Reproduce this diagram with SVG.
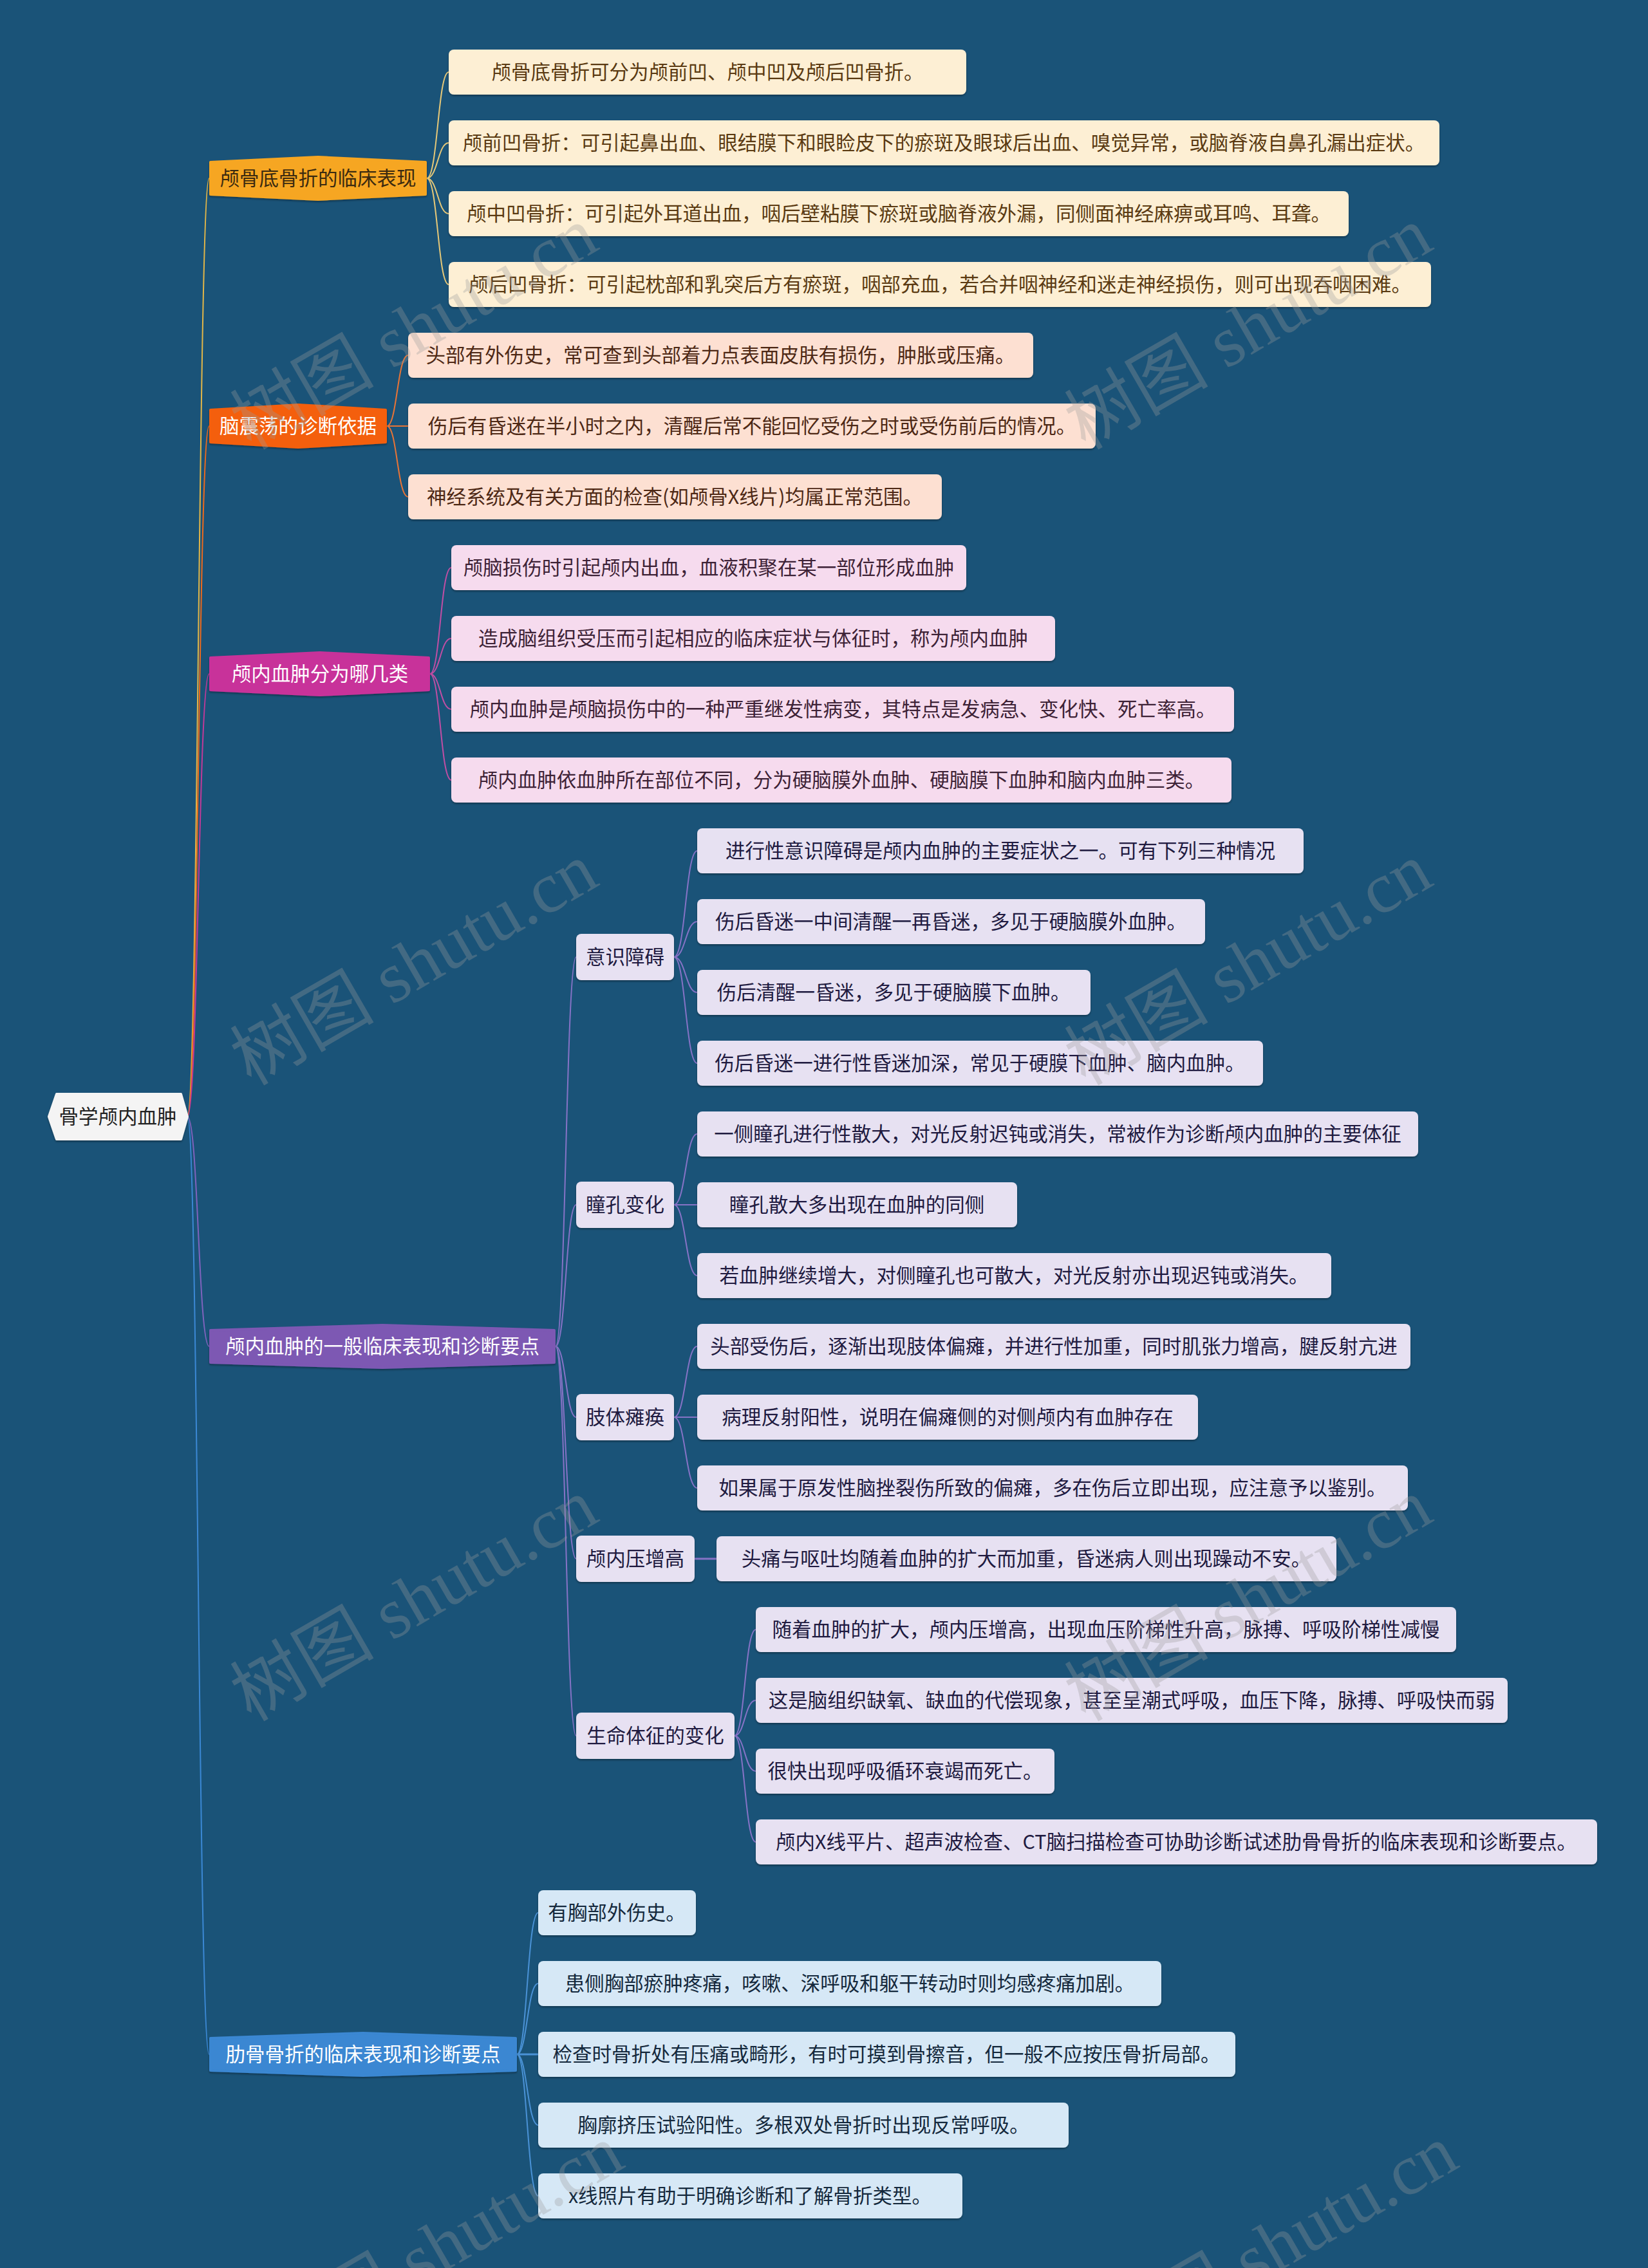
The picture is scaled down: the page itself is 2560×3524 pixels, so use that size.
<svg xmlns="http://www.w3.org/2000/svg" width="2560" height="3524" viewBox="0 0 2560 3524">
<defs>
<filter id="sh" x="-5%" y="-20%" width="110%" height="150%"><feDropShadow dx="0" dy="2" stdDeviation="1.5" flood-color="#000" flood-opacity="0.35"/></filter>
</defs>
<style>
text{font-family:"Noto Sans CJK SC","Liberation Sans",sans-serif;font-size:30.5px;text-anchor:middle}
.l1 rect{fill:#fdefd4}.l1 text{fill:#5a3a12}
.l2 rect{fill:#fde0d2}.l2 text{fill:#4d2815}
.l3 rect{fill:#f6dbee}.l3 text{fill:#3d2236}
.l4 rect{fill:#e7e1f2}.l4 text{fill:#201a40}
.l5 rect{fill:#d6e8f6}.l5 text{fill:#14283c}
rect{filter:url(#sh)}
.hx{filter:url(#sh);stroke-linejoin:round;stroke-width:4}
.wt{fill:#fff}
#edges path{fill:none;stroke-width:2}
.wm{font-family:"Liberation Serif","Noto Sans CJK SC",serif;font-size:112px;text-anchor:start;fill:#9a9a9a;fill-opacity:0.32}
</style>
<rect x="0" y="0" width="2560" height="3524" fill="#1a5378" style="filter:none"/>
<g id="edges">
<g stroke="#e2b648"><path d="M291 1735 C308 1735 308 277 325 277"/></g>
<g stroke="#ee6a1c"><path d="M291 1735 C308 1735 308 662 325 662"/></g>
<g stroke="#c03a98"><path d="M291 1735 C308 1735 308 1047 325 1047"/></g>
<g stroke="#7f63bd"><path d="M291 1735 C308 1735 308 2092 325 2092"/></g>
<g stroke="#3b88d4"><path d="M291 1735 C308 1735 308 3192 325 3192"/></g>
<g stroke="#e6c878">
<path d="M663 277 C680 277 680 112 697 112"/><path d="M663 277 C680 277 680 222 697 222"/><path d="M663 277 C680 277 680 332 697 332"/><path d="M663 277 C680 277 680 442 697 442"/>
</g>
<g stroke="#e87436">
<path d="M601 662 C617 662 617 552 634 552"/><path d="M601 662 L634 662"/><path d="M601 662 C617 662 617 772 634 772"/>
</g>
<g stroke="#c04ea4">
<path d="M668 1047 C684 1047 684 882 701 882"/><path d="M668 1047 C684 1047 684 992 701 992"/><path d="M668 1047 C684 1047 684 1102 701 1102"/><path d="M668 1047 C684 1047 684 1212 701 1212"/>
</g>
<g stroke="#8673c6">
<path d="M863 2092 C879 2092 879 1487 895 1487"/><path d="M863 2092 C879 2092 879 1872 895 1872"/><path d="M863 2092 C879 2092 879 2202 895 2202"/><path d="M863 2092 C879 2092 879 2422 895 2422"/><path d="M863 2092 C879 2092 879 2697 895 2697"/>
<path d="M1047 1487 C1065 1487 1065 1322 1083 1322"/><path d="M1047 1487 C1065 1487 1065 1432 1083 1432"/><path d="M1047 1487 C1065 1487 1065 1542 1083 1542"/><path d="M1047 1487 C1065 1487 1065 1652 1083 1652"/>
<path d="M1047 1872 C1065 1872 1065 1762 1083 1762"/><path d="M1047 1872 L1083 1872"/><path d="M1047 1872 C1065 1872 1065 1982 1083 1982"/>
<path d="M1047 2202 C1065 2202 1065 2092 1083 2092"/><path d="M1047 2202 L1083 2202"/><path d="M1047 2202 C1065 2202 1065 2312 1083 2312"/>
<path d="M1079 2422 L1113 2422" style="stroke-width:3"/>
<path d="M1141 2697 C1157 2697 1157 2532 1174 2532"/><path d="M1141 2697 C1157 2697 1157 2642 1174 2642"/><path d="M1141 2697 C1157 2697 1157 2752 1174 2752"/><path d="M1141 2697 C1157 2697 1157 2862 1174 2862"/>
</g>
<g stroke="#4a92d6">
<path d="M803 3192 C819 3192 819 2972 836 2972"/><path d="M803 3192 C819 3192 819 3082 836 3082"/><path d="M803 3192 L836 3192" style="stroke-width:3"/><path d="M803 3192 C819 3192 819 3302 836 3302"/><path d="M803 3192 C819 3192 819 3412 836 3412"/>
</g>
</g>

<g id="root"><polygon class="hx" points="88,1700 281,1700 291,1735 281,1770 88,1770 76,1735" fill="#f4f4f4" stroke="#f4f4f4"/><text x="183" y="1746" fill="#222">骨学颅内血肿</text></g>

<g id="n1"><polygon class="hx" points="327,252 494,244 661,252 661,302 494,310 327,302" fill="#f6a623" stroke="#f6a623"/><text x="494" y="288" fill="#3b2a10">颅骨底骨折的临床表现</text></g>
<g id="n2"><polygon class="hx" points="327,637 463,629 599,637 599,687 463,695 327,687" fill="#f45f0a" stroke="#f45f0a"/><text class="wt" x="463" y="673">脑震荡的诊断依据</text></g>
<g id="n3"><polygon class="hx" points="327,1022 497,1014 666,1022 666,1072 497,1080 327,1072" fill="#c8339a" stroke="#c8339a"/><text class="wt" x="497" y="1058">颅内血肿分为哪几类</text></g>
<g id="n4"><polygon class="hx" points="327,2067 594,2059 861,2067 861,2117 594,2125 327,2117" fill="#7d58b3" stroke="#7d58b3"/><text class="wt" x="594" y="2103">颅内血肿的一般临床表现和诊断要点</text></g>
<g id="n5"><polygon class="hx" points="327,3167 564,3159 801,3167 801,3217 564,3225 327,3217" fill="#3a87d2" stroke="#3a87d2"/><text class="wt" x="564" y="3203">肋骨骨折的临床表现和诊断要点</text></g>

<g class="l1">
<g id="i0"><rect x="697" y="77" width="804" height="70" rx="8"/><text x="1099" y="123">颅骨底骨折可分为颅前凹、颅中凹及颅后凹骨折。</text></g>
<g id="i1"><rect x="697" y="187" width="1539" height="70" rx="8"/><text x="1466" y="233">颅前凹骨折：可引起鼻出血、眼结膜下和眼睑皮下的瘀斑及眼球后出血、嗅觉异常，或脑脊液自鼻孔漏出症状。</text></g>
<g id="i2"><rect x="697" y="297" width="1398" height="70" rx="8"/><text x="1396" y="343">颅中凹骨折：可引起外耳道出血，咽后壁粘膜下瘀斑或脑脊液外漏，同侧面神经麻痹或耳鸣、耳聋。</text></g>
<g id="i3"><rect x="697" y="407" width="1526" height="70" rx="8"/><text x="1460" y="453">颅后凹骨折：可引起枕部和乳突后方有瘀斑，咽部充血，若合并咽神经和迷走神经损伤，则可出现吞咽困难。</text></g>
</g>
<g class="l2">
<g id="i4"><rect x="634" y="517" width="971" height="70" rx="8"/><text x="1119" y="563">头部有外伤史，常可查到头部着力点表面皮肤有损伤，肿胀或压痛。</text></g>
<g id="i5"><rect x="634" y="627" width="1068" height="70" rx="8"/><text x="1168" y="673">伤后有昏迷在半小时之内，清醒后常不能回忆受伤之时或受伤前后的情况。</text></g>
<g id="i6"><rect x="634" y="737" width="829" height="70" rx="8"/><text x="1048" y="783">神经系统及有关方面的检查(如颅骨X线片)均属正常范围。</text></g>
</g>
<g class="l3">
<g id="i7"><rect x="701" y="847" width="800" height="70" rx="8"/><text x="1101" y="893">颅脑损伤时引起颅内出血，血液积聚在某一部位形成血肿</text></g>
<g id="i8"><rect x="701" y="957" width="938" height="70" rx="8"/><text x="1170" y="1003">造成脑组织受压而引起相应的临床症状与体征时，称为颅内血肿</text></g>
<g id="i9"><rect x="701" y="1067" width="1216" height="70" rx="8"/><text x="1309" y="1113">颅内血肿是颅脑损伤中的一种严重继发性病变，其特点是发病急、变化快、死亡率高。</text></g>
<g id="i10"><rect x="701" y="1177" width="1212" height="70" rx="8"/><text x="1307" y="1223">颅内血肿依血肿所在部位不同，分为硬脑膜外血肿、硬脑膜下血肿和脑内血肿三类。</text></g>
</g>
<g class="l4">
<g id="m1"><rect x="895" y="1451" width="152" height="72" rx="8"/><text x="971" y="1498">意识障碍</text></g>
<g id="m2"><rect x="895" y="1836" width="152" height="72" rx="8"/><text x="971" y="1883">瞳孔变化</text></g>
<g id="m3"><rect x="895" y="2166" width="152" height="72" rx="8"/><text x="971" y="2213">肢体瘫痪</text></g>
<g id="m4"><rect x="895" y="2386" width="184" height="72" rx="8"/><text x="987" y="2433">颅内压增高</text></g>
<g id="m5"><rect x="895" y="2661" width="246" height="72" rx="8"/><text x="1018" y="2708">生命体征的变化</text></g>
<g id="i11"><rect x="1083" y="1287" width="942" height="70" rx="8"/><text x="1554" y="1333">进行性意识障碍是颅内血肿的主要症状之一。可有下列三种情况</text></g>
<g id="i12"><rect x="1083" y="1397" width="789" height="70" rx="8"/><text x="1477" y="1443">伤后昏迷一中间清醒一再昏迷，多见于硬脑膜外血肿。</text></g>
<g id="i13"><rect x="1083" y="1507" width="611" height="70" rx="8"/><text x="1388" y="1553">伤后清醒一昏迷，多见于硬脑膜下血肿。</text></g>
<g id="i14"><rect x="1083" y="1617" width="879" height="70" rx="8"/><text x="1522" y="1663">伤后昏迷一进行性昏迷加深，常见于硬膜下血肿、脑内血肿。</text></g>
<g id="i15"><rect x="1083" y="1727" width="1120" height="70" rx="8"/><text x="1643" y="1773">一侧瞳孔进行性散大，对光反射迟钝或消失，常被作为诊断颅内血肿的主要体征</text></g>
<g id="i16"><rect x="1083" y="1837" width="497" height="70" rx="8"/><text x="1331" y="1883">瞳孔散大多出现在血肿的同侧</text></g>
<g id="i17"><rect x="1083" y="1947" width="985" height="70" rx="8"/><text x="1575" y="1993">若血肿继续增大，对侧瞳孔也可散大，对光反射亦出现迟钝或消失。</text></g>
<g id="i18"><rect x="1083" y="2057" width="1108" height="70" rx="8"/><text x="1637" y="2103">头部受伤后，逐渐出现肢体偏瘫，并进行性加重，同时肌张力增高，腱反射亢进</text></g>
<g id="i19"><rect x="1083" y="2167" width="778" height="70" rx="8"/><text x="1472" y="2213">病理反射阳性，说明在偏瘫侧的对侧颅内有血肿存在</text></g>
<g id="i20"><rect x="1083" y="2277" width="1104" height="70" rx="8"/><text x="1635" y="2323">如果属于原发性脑挫裂伤所致的偏瘫，多在伤后立即出现，应注意予以鉴别。</text></g>
<g id="i21"><rect x="1113" y="2387" width="963" height="70" rx="8"/><text x="1594" y="2433">头痛与呕吐均随着血肿的扩大而加重，昏迷病人则出现躁动不安。</text></g>
<g id="i22"><rect x="1174" y="2497" width="1088" height="70" rx="8"/><text x="1718" y="2543">随着血肿的扩大，颅内压增高，出现血压阶梯性升高，脉搏、呼吸阶梯性减慢</text></g>
<g id="i23"><rect x="1174" y="2607" width="1168" height="70" rx="8"/><text x="1758" y="2653">这是脑组织缺氧、缺血的代偿现象，甚至呈潮式呼吸，血压下降，脉搏、呼吸快而弱</text></g>
<g id="i24"><rect x="1174" y="2717" width="464" height="70" rx="8"/><text x="1406" y="2763">很快出现呼吸循环衰竭而死亡。</text></g>
<g id="i25"><rect x="1174" y="2827" width="1307" height="70" rx="8"/><text x="1827" y="2873">颅内X线平片、超声波检查、CT脑扫描检查可协助诊断试述肋骨骨折的临床表现和诊断要点。</text></g>
</g>
<g class="l5">
<g id="i26"><rect x="836" y="2937" width="245" height="70" rx="8"/><text x="958" y="2983">有胸部外伤史。</text></g>
<g id="i27"><rect x="836" y="3047" width="968" height="70" rx="8"/><text x="1320" y="3093">患侧胸部瘀肿疼痛，咳嗽、深呼吸和躯干转动时则均感疼痛加剧。</text></g>
<g id="i28"><rect x="836" y="3157" width="1083" height="70" rx="8"/><text x="1377" y="3203">检查时骨折处有压痛或畸形，有时可摸到骨擦音，但一般不应按压骨折局部。</text></g>
<g id="i29"><rect x="836" y="3267" width="824" height="70" rx="8"/><text x="1248" y="3313">胸廓挤压试验阳性。多根双处骨折时出现反常呼吸。</text></g>
<g id="i30"><rect x="836" y="3377" width="659" height="70" rx="8"/><text x="1165" y="3423">x线照片有助于明确诊断和了解骨折类型。</text></g>
</g>

<g id="watermark">
<text class="wm" transform="translate(390,700) rotate(-30)">树图 shutu.cn</text>
<text class="wm" transform="translate(1686,700) rotate(-30)">树图 shutu.cn</text>
<text class="wm" transform="translate(390,1688) rotate(-30)">树图 shutu.cn</text>
<text class="wm" transform="translate(1686,1688) rotate(-30)">树图 shutu.cn</text>
<text class="wm" transform="translate(390,2676) rotate(-30)">树图 shutu.cn</text>
<text class="wm" transform="translate(1686,2676) rotate(-30)">树图 shutu.cn</text>
<text class="wm" transform="translate(430,3680) rotate(-30)">树图 shutu.cn</text>
<text class="wm" transform="translate(1726,3680) rotate(-30)">树图 shutu.cn</text>
</g>
</svg>
